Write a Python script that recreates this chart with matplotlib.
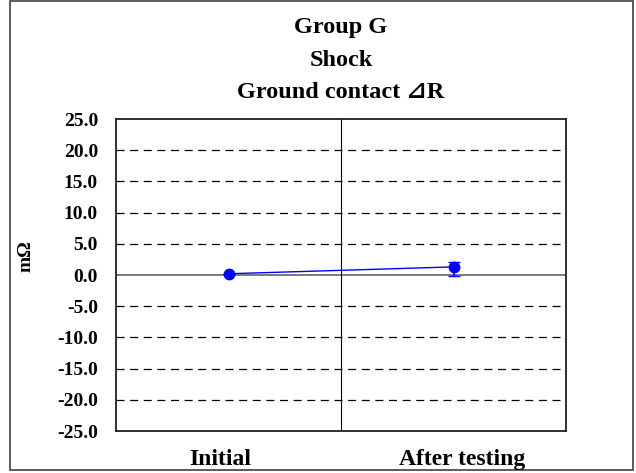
import numpy as np
import matplotlib
matplotlib.use('Agg')
import matplotlib.pyplot as plt
from matplotlib.patches import Rectangle

# datos
etapas = ['Initial', 'After testing']
delta_r = [0.2, 1.3]
err_abajo = [0.0, 1.5]
err_arriba = [0.0, 0.8]
ticks_y = [25.0, 20.0, 15.0, 10.0, 5.0, 0.0, -5.0, -10.0, -15.0, -20.0, -25.0]
titulo = ['Group G', 'Shock', 'Ground contact \u22bfR']

plt.rcParams['font.family'] = ['Liberation Serif', 'DejaVu Serif', 'DejaVu Sans']
plt.rcParams['font.weight'] = 'bold'

W, H = 636, 473
fig = plt.figure(figsize=(W/100, H/100), dpi=100)
ax = fig.add_axes([116/W, 1-431/H, 450/W, 312/H])

# marco exterior
fig.patches.append(Rectangle((10/W, 3/H), 623/W, 469/H, transform=fig.transFigure,
                             fill=False, edgecolor='#404040', linewidth=1.2))

x = [0.5, 1.5]
for v in ticks_y:
    if v == 0:
        ax.axhline(v, color='#707070', linewidth=1.3, zorder=1)
    elif abs(v) < 25:
        ax.axhline(v, color='black', linewidth=0.9, dashes=(6.4, 4.5), zorder=1)
ax.axvline(1.0, color='black', linewidth=0.8, zorder=1)

ax.errorbar(x, delta_r, yerr=[err_abajo, err_arriba], color='blue', marker='o',
            markersize=7.5, linewidth=1.0, capsize=4, elinewidth=1.2, zorder=3)

ax.set_xlim(0, 2)
ax.set_ylim(-25, 25)
ax.set_yticks(ticks_y)
ax.set_yticklabels(['%.1f' % v for v in ticks_y], fontsize=14, fontweight='bold')
ax.tick_params(axis='y', length=0, pad=13)
ax.set_xticks([])
for s in ax.spines.values():
    s.set_linewidth(1.3)
    s.set_color('#202020')

# etiquetas de categorias
for xi, et in zip([220, 462], etapas):
    fig.text(xi/W, 1-465/H, et, ha='center', va='baseline',
             fontsize=17, fontweight='bold')

fig.text(26/W, 1-256/H, 'm\u03a9', rotation=90, ha='center', va='center',
         fontsize=14, fontweight='bold')

for i, t in enumerate(titulo):
    fig.text(341/W, 1-(28+32*i)/H, t, ha='center', va='center',
             fontsize=17.5, fontweight='bold')

fig.savefig('out.png', dpi=100)
